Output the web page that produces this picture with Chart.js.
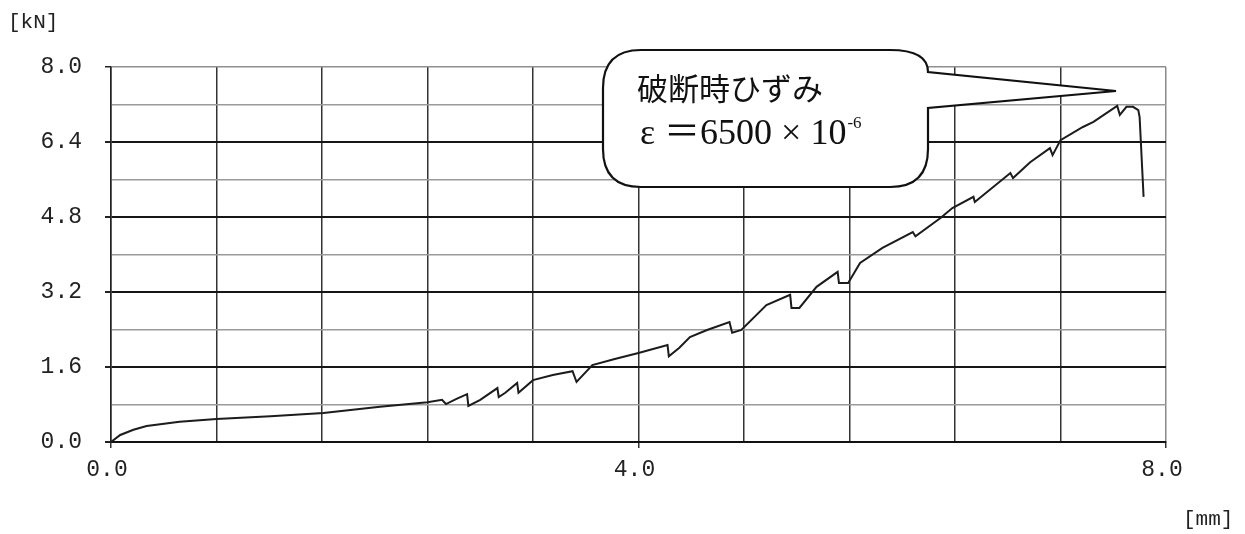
<!DOCTYPE html>
<html lang="ja">
<head>
<meta charset="utf-8">
<title>荷重－変位曲線</title>
<script src="https://cdn.jsdelivr.net/npm/chart.js@4.4.1/dist/chart.umd.min.js"></script>
<style>
  html, body { margin: 0; padding: 0; background: #ffffff; }
  #wrap { width: 1245px; height: 534px; position: relative; }
</style>
</head>
<body>
<div id="wrap"><canvas id="chart" width="1245" height="534"></canvas></div>
<script>
// Tensile test record: displacement [mm] against load [kN]
const displacementMm = [
  0.00, 0.07, 0.17, 0.27, 0.52, 0.80, 1.21, 1.61, 2.04, 2.40,
  2.51, 2.54, 2.62, 2.70, 2.71, 2.80, 2.93, 2.94, 2.99, 3.08,
  3.09, 3.20, 3.35, 3.50, 3.53, 3.65, 3.82, 4.00, 4.22, 4.23,
  4.31, 4.39, 4.52, 4.69, 4.71, 4.78, 4.97, 5.15, 5.16, 5.22,
  5.35, 5.51, 5.52, 5.59, 5.68, 5.85, 6.08, 6.10, 6.29, 6.38,
  6.54, 6.55, 6.82, 6.84, 6.97, 7.12, 7.14, 7.20, 7.37, 7.45,
  7.63, 7.65, 7.70, 7.75, 7.79, 7.80, 7.83
];
const loadKN = [
  0.00, 0.15, 0.26, 0.34, 0.43, 0.49, 0.55, 0.62, 0.75, 0.85,
  0.90, 0.81, 0.92, 1.02, 0.77, 0.90, 1.15, 0.96, 1.05, 1.26,
  1.05, 1.32, 1.43, 1.51, 1.28, 1.64, 1.77, 1.90, 2.07, 1.83,
  2.01, 2.24, 2.39, 2.56, 2.33, 2.39, 2.92, 3.14, 2.86, 2.86,
  3.31, 3.63, 3.39, 3.39, 3.82, 4.14, 4.48, 4.39, 4.78, 4.99,
  5.23, 5.12, 5.74, 5.63, 5.97, 6.27, 6.12, 6.44, 6.72, 6.83,
  7.17, 6.98, 7.15, 7.15, 7.08, 6.93, 5.23
];

const xTickLabels = ['0.0', '4.0', '8.0'];
const yTickLabels = ['0.0', '1.6', '3.2', '4.8', '6.4', '8.0'];
const xUnit = '[mm]';
const yUnit = '[kN]';
const calloutTitle = '破断時ひずみ';
const calloutStrain = ['ε ＝6500 × 10', '-6'];

const points = displacementMm.map((x, i) => ({ x: x, y: loadKN[i] }));

const monoFont = '"Liberation Mono", "DejaVu Sans Mono", monospace';

function isLabelled(list, v) {
  return list.indexOf(Number(v).toFixed(1)) !== -1;
}

// Speech-bubble annotation and unit captions
const decorPlugin = {
  id: 'decor',
  afterDatasetsDraw(chart) {
    const ctx = chart.ctx;
    ctx.save();

    // unit captions
    ctx.fillStyle = '#222';
    ctx.font = '21px ' + monoFont;
    ctx.textBaseline = 'middle';
    ctx.textAlign = 'left';
    ctx.fillText(yUnit, 8, 22);
    ctx.fillText(xUnit, 1183, 519);

    // bubble
    const L = 603, R = 928, T = 50, B = 187, r = 38;
    const tailTop = 72, tailBot = 108, tipX = 1116, tipY = 91;
    ctx.beginPath();
    ctx.moveTo(L + r, T);
    ctx.lineTo(R - r, T);
    ctx.quadraticCurveTo(R, T, R, tailTop);
    ctx.lineTo(tipX, tipY);
    ctx.lineTo(R, tailBot);
    ctx.lineTo(R, B - r);
    ctx.quadraticCurveTo(R, B, R - r, B);
    ctx.lineTo(L + r, B);
    ctx.quadraticCurveTo(L, B, L, B - r);
    ctx.lineTo(L, T + r);
    ctx.quadraticCurveTo(L, T, L + r, T);
    ctx.closePath();
    ctx.fillStyle = '#ffffff';
    ctx.fill();
    ctx.lineWidth = 2.2;
    ctx.strokeStyle = '#111';
    ctx.stroke();

    // bubble text
    ctx.fillStyle = '#111';
    ctx.textBaseline = 'alphabetic';
    ctx.font = '31px "Noto Sans CJK JP", sans-serif';
    ctx.fillText(calloutTitle, 637, 100);

    ctx.font = '36px "Liberation Serif", "Noto Sans CJK JP", serif';
    ctx.fillText(calloutStrain[0], 640, 144);
    const w = ctx.measureText(calloutStrain[0]).width;
    ctx.font = '17px "Liberation Serif", serif';
    ctx.fillText(calloutStrain[1], 640 + w + 1, 128);

    ctx.restore();
  }
};

new Chart(document.getElementById('chart'), {
  type: 'scatter',
  data: {
    datasets: [{
      data: points,
      showLine: true,
      borderColor: '#1c1c1c',
      borderWidth: 2,
      pointRadius: 0,
      tension: 0,
      fill: false
    }]
  },
  options: {
    responsive: false,
    animation: false,
    events: [],
    layout: { padding: { top: 67, right: 79, left: 0, bottom: 0 } },
    plugins: {
      legend: { display: false },
      tooltip: { enabled: false },
      title: { display: false }
    },
    scales: {
      x: {
        type: 'linear',
        min: 0,
        max: 8,
        afterFit(scale) { scale.height = 92; },
        border: { display: true, color: '#111', width: 2 },
        grid: {
          drawOnChartArea: true,
          tickLength: 6,
          color: (c) => (Math.abs(c.tick.value - 8) < 1e-6 ? '#8a8a8a' : '#333'),
          lineWidth: 1.5,
          tickColor: (c) => (isLabelled(xTickLabels, c.tick.value) ? '#333' : 'rgba(0,0,0,0)')
        },
        ticks: {
          stepSize: 0.8,
          autoSkip: false,
          maxRotation: 0,
          padding: 8,
          labelOffset: -4,
          color: '#222',
          font: { family: monoFont, size: 23 },
          callback: (v) => (isLabelled(xTickLabels, v) ? Number(v).toFixed(1) : '')
        }
      },
      y: {
        type: 'linear',
        min: 0,
        max: 8,
        afterFit(scale) { scale.width = 111; },
        border: { display: true, color: '#222', width: 1.5 },
        grid: {
          drawOnChartArea: true,
          tickLength: 6,
          color: (c) => {
            const v = c.tick.value;
            if (Math.abs(v - 8) < 1e-6) return '#8f8f8f';
            return isLabelled(yTickLabels, v) ? '#161616' : '#9a9a9a';
          },
          lineWidth: (c) => (isLabelled(yTickLabels, c.tick.value) && c.tick.value < 7.9 ? 2 : 1.5),
          tickColor: (c) => (isLabelled(yTickLabels, c.tick.value) ? '#222' : 'rgba(0,0,0,0)')
        },
        ticks: {
          stepSize: 0.8,
          autoSkip: false,
          padding: 23,
          color: '#222',
          font: { family: monoFont, size: 23 },
          callback: (v) => (isLabelled(yTickLabels, v) ? Number(v).toFixed(1) : '')
        }
      }
    }
  },
  plugins: [decorPlugin]
});
</script>
</body>
</html>
